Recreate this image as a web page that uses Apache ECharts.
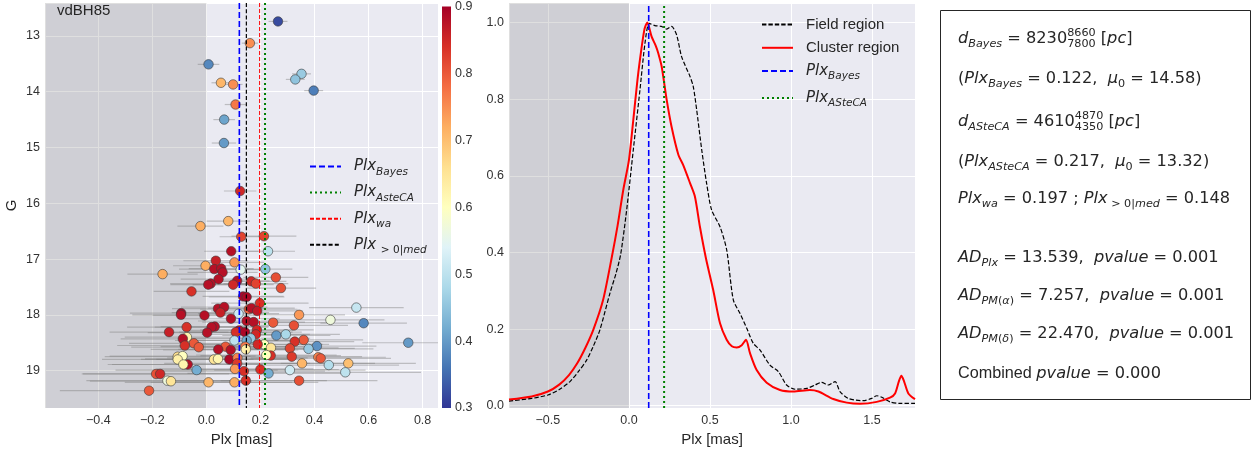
<!DOCTYPE html>
<html><head><meta charset="utf-8">
<script src="https://cdn.jsdelivr.net/npm/echarts@6/dist/echarts.min.js"></script>
<style>html,body{margin:0;padding:0;background:#fff}#c{width:1252px;height:452px}</style>
</head><body><div id="c"></div>
<script>
// ---- data ----
// cluster-region stars: [plx (mas), G (mag), membership probability, plx error (mas)]
const members = [
 [0.265,12.74,0.32,0.035],[0.161,13.13,0.75,0.03],[0.008,13.51,0.38,0.04],[0.352,13.68,0.46,0.035],
 [0.329,13.78,0.45,0.035],[0.054,13.84,0.71,0.035],[0.099,13.87,0.75,0.035],[0.397,13.98,0.37,0.035],
 [0.108,14.23,0.77,0.04],[0.066,14.50,0.41,0.04],[0.065,14.92,0.40,0.045],[0.125,15.78,0.85,0.06],
 [0.081,16.32,0.71,0.08],[-0.022,16.41,0.72,0.085],[0.129,16.60,0.82,0.08],[0.213,16.59,0.82,0.12],
 [0.092,16.86,0.88,0.10],[0.228,16.86,0.50,0.10],[0.035,17.03,0.86,0.12],[0.104,17.06,0.74,0.11],
 [-0.003,17.12,0.72,0.12],[0.127,17.19,0.55,0.10],[0.218,17.18,0.45,0.10],[0.029,17.18,0.88,0.13],
 [0.055,17.17,0.88,0.12],[0.060,17.24,0.88,0.13],[-0.162,17.27,0.72,0.13],[0.257,17.33,0.81,0.12],
 [0.045,17.36,0.88,0.14],[0.114,17.39,0.88,0.12],[0.166,17.40,0.85,0.13],[0.183,17.44,0.82,0.12],
 [0.016,17.44,0.88,0.15],[0.007,17.46,0.88,0.14],[0.099,17.46,0.85,0.15],[0.276,17.52,0.81,0.13],
 [-0.055,17.58,0.84,0.14],[0.136,17.67,0.89,0.15],[0.149,17.68,0.89,0.14],[0.198,17.79,0.84,0.18],
 [0.555,17.87,0.51,0.175],[0.043,17.89,0.88,0.17],[0.066,17.86,0.88,0.16],[0.157,17.90,0.79,0.18],
 [0.167,17.88,0.88,0.16],[0.188,17.93,0.87,0.17],[0.052,17.96,0.86,0.18],[-0.093,17.97,0.89,0.19],
 [-0.094,18.00,0.88,0.18],[0.119,17.98,0.52,0.15],[-0.007,18.01,0.88,0.19],[0.343,18.00,0.74,0.17],
 [0.459,18.09,0.57,0.20],[0.091,18.07,0.88,0.18],[0.149,18.11,0.88,0.18],[0.175,18.13,0.88,0.19],
 [0.582,18.15,0.38,0.16],[0.247,18.14,0.80,0.20],[0.324,18.19,0.81,0.20],[-0.073,18.22,0.84,0.22],
 [0.031,18.21,0.88,0.20],[0.019,18.22,0.88,0.21],[0.121,18.28,0.88,0.20],[0.187,18.27,0.85,0.21],
 [-0.138,18.31,0.86,0.22],[0.003,18.32,0.88,0.22],[0.109,18.31,0.84,0.21],[0.183,18.35,0.85,0.20],
 [0.143,18.31,0.89,0.21],[0.259,18.37,0.40,0.20],[0.294,18.35,0.48,0.20],[-0.072,18.40,0.62,0.23],
 [-0.087,18.43,0.88,0.23],[0.104,18.46,0.50,0.22],[0.164,18.42,0.46,0.22],[0.149,18.46,0.42,0.21],
 [0.360,18.45,0.80,0.22],[0.327,18.48,0.84,0.22],[0.747,18.50,0.40,0.17],[-0.046,18.51,0.80,0.24],
 [-0.080,18.55,0.84,0.25],[0.214,18.53,0.60,0.24],[0.190,18.53,0.85,0.24],[0.239,18.59,0.65,0.25],
 [0.071,18.57,0.80,0.24],[0.409,18.56,0.39,0.22],[-0.028,18.58,0.80,0.25],[0.144,18.57,0.77,0.24],
 [0.309,18.60,0.82,0.24],[0.378,18.61,0.46,0.24],[0.044,18.62,0.88,0.25],[0.090,18.63,0.88,0.25],
 [0.146,18.62,0.63,0.25],[0.238,18.73,0.84,0.26],[0.222,18.72,0.60,0.26],[-0.106,18.75,0.66,0.27],
 [-0.088,18.74,0.60,0.27],[0.316,18.75,0.83,0.26],[0.414,18.76,0.76,0.25],[0.423,18.78,0.80,0.26],
 [0.028,18.80,0.65,0.27],[0.043,18.79,0.62,0.27],[0.085,18.80,0.89,0.27],[0.115,18.77,0.76,0.26],
 [-0.106,18.80,0.63,0.28],[-0.069,18.89,0.88,0.28],[-0.085,18.89,0.62,0.28],[0.114,18.87,0.83,0.27],
 [0.354,18.87,0.71,0.27],[0.453,18.90,0.49,0.26],[0.525,18.87,0.70,0.25],[-0.036,18.99,0.42,0.30],
 [0.106,18.97,0.74,0.29],[0.200,18.98,0.84,0.29],[0.139,19.01,0.84,0.30],[0.309,18.99,0.52,0.28],
 [0.230,19.05,0.42,0.30],[0.514,19.03,0.50,0.28],[-0.186,19.06,0.81,0.27],[-0.171,19.06,0.85,0.29],
 [-0.144,19.18,0.57,0.30],[-0.131,19.19,0.65,0.30],[0.008,19.21,0.71,0.31],[0.104,19.21,0.72,0.31],
 [0.146,19.18,0.84,0.30],[0.343,19.18,0.81,0.29],[-0.212,19.36,0.80,0.33]
];
// normalised parallax KDEs
const clusterX = [-0.74,-0.6,-0.5,-0.43,-0.37,-0.32,-0.27,-0.22,-0.16,-0.107,-0.07,-0.035,0.0,0.027,0.05,0.068,0.095,0.113,0.14,0.165,0.181,0.202,0.233,0.263,0.305,0.335,0.377,0.407,0.438,0.475,0.52,0.562,0.603,0.635,0.665,0.696,0.722,0.747,0.788,0.85,0.932,1.014,1.117,1.169,1.261,1.344,1.426,1.529,1.611,1.642,1.665,1.681,1.698,1.724,1.765];
const clusterY = [0.016,0.024,0.037,0.055,0.08,0.11,0.15,0.198,0.275,0.385,0.47,0.563,0.641,0.746,0.84,0.903,0.981,1.0,0.963,0.94,0.92,0.885,0.798,0.728,0.655,0.628,0.581,0.546,0.467,0.385,0.302,0.215,0.172,0.155,0.152,0.158,0.172,0.137,0.093,0.06,0.041,0.037,0.041,0.037,0.0175,0.008,0.005,0.010,0.021,0.032,0.063,0.078,0.063,0.032,0.017];
const fieldX = [-0.74,-0.6,-0.5,-0.43,-0.364,-0.31,-0.261,-0.22,-0.179,-0.117,-0.08,-0.051,-0.014,0.027,0.068,0.099,0.125,0.16,0.2,0.233,0.263,0.294,0.325,0.377,0.397,0.418,0.449,0.479,0.51,0.562,0.603,0.644,0.685,0.727,0.767,0.809,0.87,0.922,0.973,1.025,1.097,1.148,1.189,1.23,1.272,1.302,1.354,1.446,1.498,1.529,1.56,1.611,1.673,1.765];
const fieldY = [0.012,0.019,0.028,0.042,0.063,0.09,0.119,0.155,0.198,0.294,0.345,0.395,0.511,0.668,0.824,0.946,0.998,0.992,0.99,0.983,0.99,0.968,0.911,0.859,0.833,0.772,0.668,0.581,0.511,0.467,0.407,0.276,0.241,0.202,0.163,0.145,0.106,0.089,0.054,0.043,0.045,0.054,0.061,0.054,0.063,0.037,0.019,0.013,0.019,0.026,0.022,0.010,0.006,0.006];
const plxBayes = 0.122, plxAsteca = 0.217, plxWa = 0.197, plxMed = 0.148;
const probRange = [0.3, 0.9];
// axis extents
const gRange = [12.41, 19.67], plxRangeL = [-0.597, 0.857];
const plxRangeM = [-0.74, 1.765], kdeRange = [-0.006, 1.051];

// ---- styling ----
const cmap = ['#313695','#4575b4','#74add1','#abd9e9','#e0f3f8','#ffffbf','#fee090','#fdae61','#f46d43','#d73027','#a50026'];
const TXT = '#262626';
const SANS = 'Liberation Sans', DJ = 'DejaVu Sans';
const minus = v => (v < 0 ? '\u2212' : '') + Math.abs(v).toFixed(1);
const onStep = (v, s) => Math.abs(v / s - Math.round(v / s)) < 1e-6;

const axLabel = {color:'#333', fontSize:12.5, fontFamily:SANS};
const nameStyle = {color:TXT, fontSize:15, fontFamily:SANS};

const rich = {
  g:{width:8, fontSize:10},
  it:{fontFamily:DJ, fontStyle:'italic', fontSize:15, lineHeight:22, color:TXT},
  sub:{fontFamily:DJ, fontStyle:'italic', fontSize:10.5, lineHeight:12, verticalAlign:'bottom', color:TXT},
  subn:{fontFamily:DJ, fontSize:10.5, lineHeight:12, verticalAlign:'bottom', color:TXT},
  r:{fontFamily:SANS, fontSize:15, lineHeight:22, color:TXT}
};
const legendText = {
  PlxBayes_L:'{g| }{it|Plx}{sub|Bayes}',
  PlxAsteCA_L:'{g| }{it|Plx}{sub|AsteCA}',
  PlxWa_L:'{g| }{it|Plx}{sub|wa}',
  PlxMed_L:'{g| }{it|Plx }{subn|> 0|}{sub|med}',
  'Field region':'{g| }{r|Field region}',
  'Cluster region':'{g| }{r|Cluster region}',
  PlxBayes_M:'{g| }{it|Plx}{sub|Bayes}',
  PlxASteCA_M:'{g| }{it|Plx}{sub|ASteCA}'
};

function vline(name, v, range, xi, color, dash, width) {
  return {name, type:'line', xAxisIndex:xi, yAxisIndex:xi, data:[[v, range[0]],[v, range[1]]],
    symbol:'none', z:5, silent:true,
    lineStyle:{color, type:dash, width}, itemStyle:{color}};
}
function shade(xi, lo) {
  return {name:'shade'+xi, type:'line', xAxisIndex:xi, yAxisIndex:xi, data:[], z:1, silent:true,
    markArea:{silent:true, itemStyle:{color:'rgba(128,128,128,0.25)'}, data:[[{xAxis:lo},{xAxis:0}]]}};
}

// ---- text box (mathtext-like) ----
const MAIN = 16.2, SUBSZ = 11.2, SUBDY = 5, SUPDY = -6, STKDY = 5;
const mctx = document.createElement('canvas').getContext('2d');
function fontOf(size, italic, fam) { return (italic ? 'italic ' : '') + size + 'px "' + (fam || DJ) + '"'; }
function measure(t, f) { mctx.font = f; return mctx.measureText(t).width; }
const boxLines = [
 [['d','i'],['Bayes','si'],[' = 8230','n'],['8660|7800','st'],[' [','n'],['pc','i'],[']','n']],
 [['(','n'],['Plx','i'],['Bayes','si'],[' = 0.122,  ','n'],['\u03bc','i'],['0','sn'],[' = 14.58)','n']],
 [['d','i'],['ASteCA','si'],[' = 4610','n'],['4870|4350','st'],[' [','n'],['pc','i'],[']','n']],
 [['(','n'],['Plx','i'],['ASteCA','si'],[' = 0.217,  ','n'],['\u03bc','i'],['0','sn'],[' = 13.32)','n']],
 [['Plx','i'],['wa','si'],[' = 0.197 ; ','n'],['Plx','i'],[' > 0|','sn'],['med','si'],[' = 0.148','n']],
 [['AD','i'],['Plx','si'],[' = 13.539,  ','n'],['pvalue','i'],[' = 0.001','n']],
 [['AD','i'],['PM','si'],['(','sn'],['\u03b1','si'],[')','sn'],[' = 7.257,  ','n'],['pvalue','i'],[' = 0.001','n']],
 [['AD','i'],['PM','si'],['(','sn'],['\u03b4','si'],[')','sn'],[' = 22.470,  ','n'],['pvalue','i'],[' = 0.001','n']],
 [['Combined ','t'],['pvalue','i'],[' = 0.000','n']]
];
const lineY = [39, 79, 122, 162, 199, 258, 296, 334, 374];
const textEls = [];
function addText(t, x, y, f) {
  textEls.push({type:'text', x, y, silent:true,
    style:{text:t, font:f, fill:TXT, align:'left', verticalAlign:'middle', textAlign:'left', textVerticalAlign:'middle'}});
}
boxLines.forEach((toks, li) => {
  let x = 958; const y = lineY[li];
  toks.forEach(([t, k]) => {
    if (k === 'st') {
      const [sp, sb] = t.split('|'); const f = fontOf(SUBSZ, false);
      addText(sp, x, y + SUPDY, f); addText(sb, x, y + STKDY, f);
      x += Math.max(measure(sp, f), measure(sb, f));
    } else if (k === 't') {
      const f = fontOf(MAIN, false, SANS);
      addText(t, x, y, f); x += measure(t, f);
    } else {
      const sub = k[0] === 's', it = k.endsWith('i');
      const f = fontOf(sub ? SUBSZ : MAIN, it);
      addText(t, x, y + (sub ? SUBDY : 0), f);
      x += measure(t, f);
    }
  });
});

const legendCommon = {orient:'vertical', padding:0, itemWidth:31, itemHeight:12, selectedMode:false,
  itemStyle:{opacity:0}, formatter:n => legendText[n], textStyle:{rich}};

const chart = echarts.init(document.getElementById('c'), null, {renderer:'canvas'});
chart.setOption({
  animation:false,
  backgroundColor:'#fff',
  title:{text:'vdBH85', left:57, top:3, padding:0, textStyle:{fontFamily:SANS, fontSize:15, fontWeight:'normal', color:TXT}},
  grid:[
    {left:45, top:3, width:393, height:405, show:true, backgroundColor:'#EAEAF2', borderWidth:0},
    {left:442, top:3, width:9, height:405, show:false},
    {left:509, top:3, width:406, height:405, show:true, backgroundColor:'#EAEAF2', borderWidth:0}
  ],
  xAxis:[
    {gridIndex:0, type:'value', min:plxRangeL[0], max:plxRangeL[1], splitNumber:7,
     name:'Plx [mas]', nameLocation:'middle', nameGap:21, nameTextStyle:nameStyle,
     axisLine:{show:false}, axisTick:{show:false},
     axisLabel:{...axLabel, margin:6, formatter:v => onStep(v, 0.2) ? minus(v) : ''},
     splitLine:{lineStyle:{color:'#fff', width:1}}},
    {gridIndex:1, type:'value', min:0, max:1, show:false},
    {gridIndex:2, type:'value', min:plxRangeM[0], max:plxRangeM[1], splitNumber:5,
     name:'Plx [mas]', nameLocation:'middle', nameGap:21, nameTextStyle:nameStyle,
     axisLine:{show:false}, axisTick:{show:false},
     axisLabel:{...axLabel, margin:6, formatter:v => onStep(v, 0.5) ? minus(v) : ''},
     splitLine:{lineStyle:{color:'#fff', width:1}}}
  ],
  yAxis:[
    {gridIndex:0, type:'value', inverse:true, min:gRange[0], max:gRange[1], splitNumber:7,
     name:'G', nameLocation:'middle', nameGap:26, nameTextStyle:nameStyle,
     axisLine:{show:false}, axisTick:{show:false},
     axisLabel:{...axLabel, margin:5, formatter:v => onStep(v, 1) ? String(Math.round(v)) : ''},
     splitLine:{lineStyle:{color:'#fff', width:1}}},
    {gridIndex:1, type:'value', min:probRange[0], max:probRange[1], splitNumber:6, position:'right',
     axisLine:{show:false}, axisTick:{show:false}, splitLine:{show:false},
     axisLabel:{...axLabel, margin:4, formatter:v => v.toFixed(1)}},
    {gridIndex:2, type:'value', min:kdeRange[0], max:kdeRange[1], splitNumber:5,
     axisLine:{show:false}, axisTick:{show:false},
     axisLabel:{...axLabel, margin:5, formatter:v => onStep(v, 0.2) ? v.toFixed(1) : ''},
     splitLine:{lineStyle:{color:'#fff', width:1}}}
  ],
  visualMap:{type:'continuous', show:false, min:probRange[0], max:probRange[1], dimension:2, seriesIndex:2,
    inRange:{color:cmap}},
  legend:[
    {...legendCommon, left:309, top:159, itemGap:7.6,
     data:['PlxBayes_L','PlxAsteCA_L','PlxWa_L','PlxMed_L']},
    {...legendCommon, left:761, top:17, itemGap:8.3,
     data:['Field region','Cluster region','PlxBayes_M','PlxASteCA_M']}
  ],
  series:[
    shade(0, plxRangeL[0]),
    {name:'errors', type:'custom', xAxisIndex:0, yAxisIndex:0, z:2, clip:true, silent:true,
     data:members, encode:{x:0, y:1},
     renderItem:(params, api) => {
       const x = api.value(0), g = api.value(1), e = api.value(3);
       const a = api.coord([x - e, g]), b = api.coord([x + e, g]);
       return {type:'line', shape:{x1:a[0], y1:a[1], x2:b[0], y2:b[1]},
         style:{stroke:'rgba(125,125,125,0.42)', lineWidth:1.2}};
     }},
    {name:'members', type:'scatter', xAxisIndex:0, yAxisIndex:0, z:3, symbolSize:9.5,
     data:members.map(m => [m[0], m[1], m[2]]),
     itemStyle:{borderColor:'#3a3a3a', borderWidth:0.6, opacity:1}},
    vline('PlxBayes_L', plxBayes, gRange, 0, '#0000ff', [6, 3], 1.6),
    vline('PlxAsteCA_L', plxAsteca, gRange, 0, '#008000', [2, 3], 2),
    vline('PlxWa_L', plxWa, gRange, 0, '#ff0000', [4, 2], 1),
    vline('PlxMed_L', plxMed, gRange, 0, '#000000', [4, 2.2], 1.2),
    {name:'colorbar', type:'custom', xAxisIndex:1, yAxisIndex:1, silent:true, data:[[0, probRange[0]]],
     renderItem:(params, api) => {
       const a = api.coord([0, probRange[1]]), b = api.coord([1, probRange[0]]);
       const stops = cmap.slice().reverse().map((c, i) => ({offset:i / (cmap.length - 1), color:c}));
       return {type:'rect', shape:{x:a[0], y:a[1], width:b[0] - a[0], height:b[1] - a[1]},
         style:{fill:new echarts.graphic.LinearGradient(0, 0, 0, 1, stops)}};
     }},
    shade(2, plxRangeM[0]),
    {name:'Field region', type:'line', xAxisIndex:2, yAxisIndex:2, symbol:'none', smooth:0.25, z:3,
     data:fieldX.map((x, i) => [x, fieldY[i]]),
     lineStyle:{color:'#000', type:[4.4, 2], width:1.2}, itemStyle:{color:'#000'}},
    {name:'Cluster region', type:'line', xAxisIndex:2, yAxisIndex:2, symbol:'none', smooth:0.25, z:4,
     data:clusterX.map((x, i) => [x, clusterY[i]]),
     lineStyle:{color:'#ff0000', width:2}, itemStyle:{color:'#ff0000'}},
    vline('PlxBayes_M', plxBayes, kdeRange, 2, '#0000ff', [6, 3], 1.6),
    vline('PlxASteCA_M', plxAsteca, kdeRange, 2, '#008000', [2, 3], 2)
  ],
  graphic:[
    {type:'rect', silent:true, shape:{x:940.5, y:10.5, width:310, height:389},
     style:{fill:'#fff', stroke:'#262626', lineWidth:1}},
    ...textEls
  ]
});
</script></body></html>
